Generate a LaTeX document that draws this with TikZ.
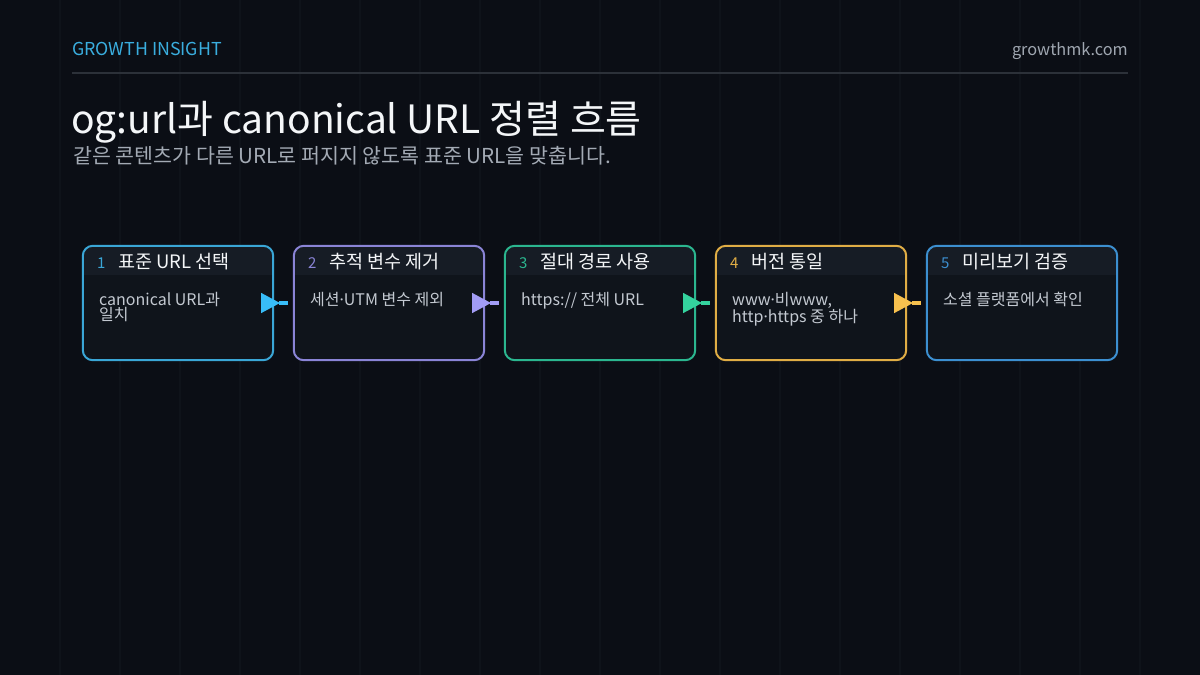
\documentclass[tikz,border=0pt]{standalone}
\usepackage{fontspec}
\setmainfont{Noto Sans CJK KR}
\newfontfamily\latinf{Noto Sans}
\usetikzlibrary{arrows.meta}
\definecolor{bg}{HTML}{0B0E15}
\definecolor{gridc}{HTML}{0F131A}
\definecolor{hlinec}{HTML}{2C3139}
\definecolor{accent}{HTML}{3AAEDF}
\definecolor{sitec}{HTML}{A0A7B1}
\definecolor{titlec}{HTML}{F4F6F8}
\definecolor{subc}{HTML}{A3AAB4}
\definecolor{hdrc}{HTML}{161C25}
\definecolor{bodyc}{HTML}{0F141B}
\definecolor{bodytxt}{HTML}{C3C9D1}
\definecolor{cA}{HTML}{3AA6D6}
\definecolor{cB}{HTML}{8A84D6}
\definecolor{cC}{HTML}{2BB68F}
\definecolor{cD}{HTML}{E0AD45}
\definecolor{cE}{HTML}{3C8FD0}
\definecolor{aA}{HTML}{38BDF8}
\definecolor{aB}{HTML}{A29CF5}
\definecolor{aC}{HTML}{34D39E}
\definecolor{aD}{HTML}{F7C04E}
\newcommand{\md}{{\latinf ·}}
\tikzset{
  gridline/.style={draw=gridc, line width=2pt},
  boxbase/.style={minimum width=190pt, minimum height=114pt, inner sep=0pt, fill=bodyc, rounded corners=10pt},
  numtxt/.style={anchor=base west, inner sep=0pt, font=\fontsize{15}{15}\selectfont},
  headtxt/.style={anchor=base west, inner sep=0pt, text=titlec, font=\fontsize{18.5}{18.5}\selectfont},
  bodytext/.style={anchor=north west, inner sep=0pt, align=left, text=bodytxt, font=\fontsize{16}{15.5}\selectfont},
  arrowhead/.style={line width=4pt, -{Triangle[length=19pt, width=19pt]}},
  stem/.style={line width=4pt}
}
\newcommand{\flowbox}[6]{%
  \node[boxbase] (#6) at (#1+96,303) {};
  \begin{scope}
    \clip[rounded corners=10pt] (#6.north west) rectangle (#6.south east);
    \fill[hdrc] (#6.north west) rectangle ([yshift=-29pt]#6.north east);
  \end{scope}
  \draw[draw=#2, line width=2pt, rounded corners=10pt] (#6.north west) rectangle (#6.south east);
  \node[numtxt, text=#2] (#6n) at (#1+15,268) {#3};
  \node[headtxt] (#6t) at (#1+36,268) {#4};
  \node[bodytext] (#6b) at (#1+17,292) {#5};
}
\begin{document}
\begin{tikzpicture}[x=1pt,y=-1pt]
\fill[bg] (0,0) rectangle (1200,675);
\useasboundingbox (0,0) rectangle (1200,675);
\foreach \i in {1,...,19} \draw[gridline] (60*\i,0) -- (60*\i,675);
% header
\node[anchor=base west, inner sep=0pt, text=accent, font=\fontsize{17.8}{18}\selectfont] (brand) at (72,55) {GROWTH INSIGHT};
\node[anchor=base east, inner sep=0pt, text=sitec, font=\fontsize{16.3}{16}\selectfont] (site) at (1128,55) {growthmk.com};
\draw[hlinec, line width=2pt] (72,73) -- (1128,73);
\node[anchor=base west, inner sep=0pt, text=titlec, font=\fontsize{39}{39}\selectfont] (title) at (71,133) {og:url과 canonical URL 정렬 흐름};
\node[anchor=base west, inner sep=0pt, text=subc, font=\fontsize{20.6}{20}\selectfont] (sub) at (73,163) {같은 콘텐츠가 다른 URL로 퍼지지 않도록 표준 URL을 맞춥니다.};
% boxes
\flowbox{82}{cA}{1}{표준 URL 선택}{canonical URL과\\일치}{b1}
\flowbox{293}{cB}{2}{추적 변수 제거}{세션\md UTM 변수 제외}{b2}
\flowbox{504}{cC}{3}{절대 경로 사용}{https:// 전체 URL}{b3}
\flowbox{715}{cD}{4}{버전 통일}{www\md 비www,\\http\md https 중 하나}{b4}
\flowbox{926}{cE}{5}{미리보기 검증}{소셜 플랫폼에서 확인}{b5}
% connectors
\draw[arrowhead, aA] ([xshift=-12pt]b1.east) -- ([xshift=7pt]b1.east);
\draw[stem, aA] ([xshift=6pt]b1.east) -- ([xshift=-6pt]b2.west);
\draw[arrowhead, aB] ([xshift=-12pt]b2.east) -- ([xshift=7pt]b2.east);
\draw[stem, aB] ([xshift=6pt]b2.east) -- ([xshift=-6pt]b3.west);
\draw[arrowhead, aC] ([xshift=-12pt]b3.east) -- ([xshift=7pt]b3.east);
\draw[stem, aC] ([xshift=6pt]b3.east) -- ([xshift=-6pt]b4.west);
\draw[arrowhead, aD] ([xshift=-12pt]b4.east) -- ([xshift=7pt]b4.east);
\draw[stem, aD] ([xshift=6pt]b4.east) -- ([xshift=-6pt]b5.west);
\end{tikzpicture}
\end{document}
